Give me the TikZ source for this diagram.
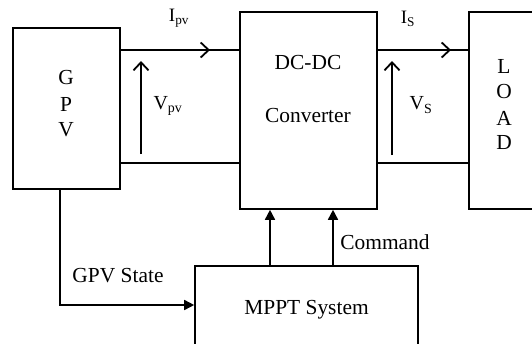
\documentclass[tikz,border=0pt]{standalone}
\usepackage{fontspec}
\setmainfont{Liberation Serif}
\usetikzlibrary{arrows.meta}
\begin{document}
\begin{tikzpicture}[x=1bp,y=-1bp,
  box/.style={draw, line width=1.6bp, inner sep=0pt},
  wire/.style={line width=1.6bp},
  flow/.style={line width=1.6bp, -{Straight Barb[length=8bp,width=15bp,line width=1.8bp]}},
  ctrl/.style={line width=1.6bp, -{Triangle[length=10bp,width=10bp]}},
  txt/.style={inner sep=0pt, font=\fontsize{21.5}{26}\selectfont},
  ilab/.style={inner sep=0pt, font=\fontsize{19}{22}\selectfont},
  vlab/.style={inner sep=0pt, font=\fontsize{20}{24}\selectfont}]
\useasboundingbox (0,0) rectangle (532,343);
\clip (0,0) rectangle (532,343);
% boxes
\node[box, minimum width=107bp, minimum height=161bp] (gpv) at (66.5,108.5) {};
\node[box, minimum width=137bp, minimum height=197bp] (dc) at (308.5,110.5) {};
\node[box, minimum width=71bp, minimum height=197bp] (load) at (504.5,110.5) {};
\node[box, minimum width=223bp, minimum height=88bp, txt] (mppt) at (306.5,310) {MPPT System};
% box texts
\node[txt] (g) at (66,78) {G};
\node[txt] (p) at (66,104) {P};
\node[txt] (v) at (66,130) {V};
\node[txt] (dctxt) at (308,63) {DC-DC};
\node[txt] (conv) at (308,116) {Converter};
\node[txt] (l) at (504,66) {L};
\node[txt] (o) at (504,92) {O};
\node[txt] (a) at (504,118) {A};
\node[txt] (d) at (504,143) {D};
% wires
\coordinate (ytop) at (0,50);
\coordinate (ybot) at (0,163);
\draw[wire] (gpv.east |- ytop) -- (dc.west |- ytop);
\draw[wire] (gpv.east |- ybot) -- (dc.west |- ybot);
\draw[wire] (dc.east |- ytop) -- (load.west |- ytop);
\draw[wire] (dc.east |- ybot) -- (load.west |- ybot);
% flow arrows
\coordinate (ipa) at (163,50);
\coordinate (ipb) at (210,50);
\coordinate (vpa) at (141,154);
\coordinate (vpb) at (141,61);
\coordinate (isa) at (404,50);
\coordinate (isb) at (451,50);
\coordinate (vsa) at (392,155);
\coordinate (vsb) at (392,61);
\draw[flow] (ipa) -- (ipb);
\draw[flow] (vpa) -- (vpb);
\draw[flow] (isa) -- (isb);
\draw[flow] (vsa) -- (vsb);
\node[ilab] (ipv) at (179,18) {I\textsubscript{pv}};
\node[vlab] (vpv) at (168,106) {V\textsubscript{pv}};
\node[ilab] (is) at (408,19) {I\textsubscript{S}};
\node[vlab] (vs) at (421,105) {V\textsubscript{S}};
% control
\coordinate (c1) at (270,0);
\coordinate (c2) at (333,0);
\coordinate (c0) at (60,0);
\coordinate (y305) at (0,305);
\draw[ctrl] (mppt.north -| c1) -- (dc.south -| c1);
\draw[ctrl] (mppt.north -| c2) -- (dc.south -| c2);
\draw[ctrl] (gpv.south -| c0) |- (mppt.west |- y305);
\node[txt] (state) at (118,276) {GPV State};
\node[txt] (cmd) at (385,242) {Command};
\end{tikzpicture}
\end{document}
